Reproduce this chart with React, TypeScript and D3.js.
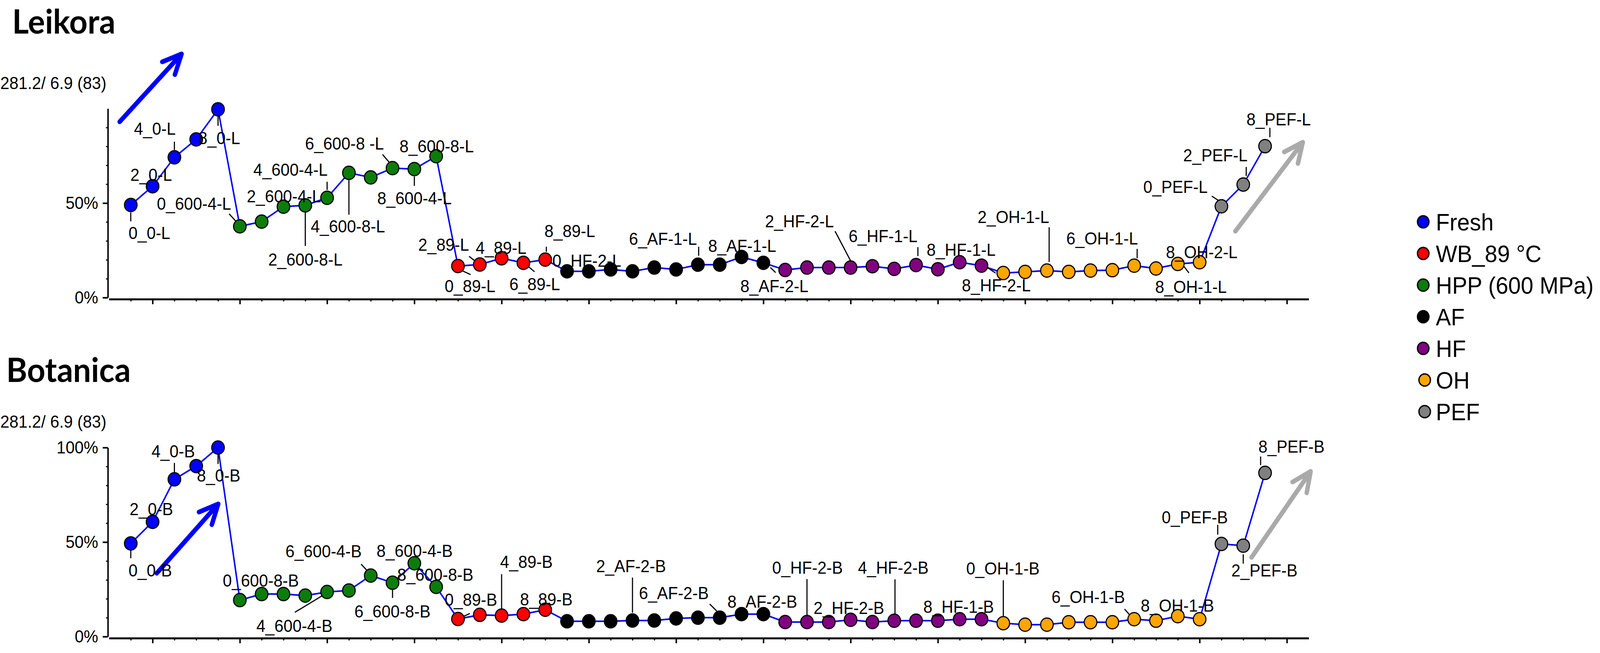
import * as d3 from "d3";
import { useRef, useEffect } from "react";

// legend / group order
const groups = ["Fresh", "WB_89 °C", "HPP (600 MPa)", "AF", "HF", "OH", "PEF"];
const groupColors = ["#0000ff", "#ff0000", "#0a7d0a", "#000000", "#800080", "#ffa500", "#808080"];

// order the groups appear along the x axis (index into groups)
const plotOrder = [0, 2, 1, 3, 4, 5, 6];

// Leikora, % of max
const leikoraFresh = [49.0, 58.9, 74.2, 83.7, 99.6];
const leikoraWB = [16.7, 17.5, 20.8, 18.4, 20.1];
const leikoraHPP = [37.7, 40.2, 48.1, 48.8, 52.8, 66.0, 63.6, 68.5, 68.0, 74.8];
const leikoraAF = [13.9, 13.9, 14.9, 13.9, 15.9, 14.9, 17.4, 17.4, 21.5, 18.4];
const leikoraHF = [14.6, 15.9, 15.9, 15.9, 16.6, 15.2, 17.2, 15.0, 18.7, 16.9];
const leikoraOH = [13.0, 13.6, 14.3, 13.6, 14.3, 14.5, 16.9, 15.4, 17.8, 18.7];
const leikoraPEF = [48.3, 59.8, 80.1];

// Botanica, % of max
const botanicaFresh = [49.3, 60.7, 83.2, 90.2, 100];
const botanicaWB = [9.3, 11.5, 11.1, 11.9, 14.2];
const botanicaHPP = [19.3, 22.5, 22.5, 21.7, 23.6, 24.4, 32.3, 28.5, 38.8, 26.3];
const botanicaAF = [8.1, 8.1, 8.1, 8.5, 8.5, 9.6, 10.0, 10.0, 11.9, 11.9];
const botanicaHF = [7.7, 7.7, 7.7, 8.9, 7.7, 8.4, 8.4, 8.4, 9.2, 9.2];
const botanicaOH = [7.1, 6.3, 6.3, 7.6, 7.6, 7.6, 9.2, 8.4, 10.8, 9.2];
const botanicaPEF = [49.0, 48.1, 86.6];

const scaleLabel = "281.2/ 6.9 (83)";
const leikoraYTicks = [0, 50];
const botanicaYTicks = [0, 50, 100];
const yMinorTicks = [10, 20, 30, 40, 60, 70, 80, 90];

// label placement: [point index, text, dx, dy, leader offsets]
type Lbl = [number, string, number, number, number[] | null];

const leikoraLabels: Lbl[] = [
    [0, "0_0-L", -6, 87, [0, 19, 0, 42]],
    [1, "2_0-L", -60, -14, null],
    [2, "4_0-L", -109, -58, [0, -40, 0, -19]],
    [4, "8_0-L", -53, 89, [0, 15, 0, 42]],
    [5, "0_600-4-L", -224, -43, [-29, -32, -2, -4]],
    [7, "2_600-4-L", -99, -11, null],
    [8, "2_600-8-L", -100, 154, [0, 18, 0, 104]],
    [9, "4_600-4-L", -199, -56, [0, -41, 0, -20]],
    [10, "4_600-8-L", -103, 152, [0, 18, 0, 107]],
    [12, "6_600-8 -L", -236, -47, [-27, -35, 0, -5]],
    [13, "8_600-4-L", -100, 90, [0, 19, 0, 43]],
    [14, "8_600-8-L", -99, -10, null],
    [15, "0_89-L", -36, 67, [0, 7, 34, 22]],
    [16, "2_89-L", -166, -35, [-29, -21, -5, -3]],
    [17, "4_89-L", -70, -11, null],
    [18, "6_89-L", -38, 70, [4, 2, 30, 23]],
    [19, "8_89-L", -2, -58, [3, -33, 3, -20]],
    [31, "0_HF-2-L", -687, -2, null],
    [26, "6_AF-1-L", -186, -51, [2, -46, 2, -23]],
    [28, "8_AF-1-L", -90, -13, null],
    [29, "8_AF-2-L", -62, 75, [19, 12, 33, 25]],
    [33, "2_HF-2-L", -231, -103, [-42, -93, 4, -10]],
    [36, "6_HF-1-L", -182, -59, [5, -46, 5, -23]],
    [38, "8_HF-1-L", -89, -16, null],
    [39, "8_HF-2-L", -53, 66, [9, 0, 38, 19]],
    [42, "2_OH-1-L", -187, -122, [6, -111, 6, -22]],
    [46, "6_OH-1-L", -183, -54, [8, -43, 8, -19]],
    [48, "8_OH-1-L", -61, 74, [6, -7, 30, 23]],
    [49, "8_OH-2-L", -91, -10, null],
    [50, "0_PEF-L", -211, -34, [-26, -26, 0, -10]],
    [51, "2_PEF-L", -162, -60, [8, -45, 8, -22]],
    [52, "8_PEF-L", -50, -53, [13, -47, 13, -23]],
];

const botanicaLabels: Lbl[] = [
    [0, "0_0-B", -6, 85, [0, 17, 0, 38]],
    [1, "2_0-B", -62, -17, null],
    [2, "4_0-B", -62, -56, [0, -42, 0, -15]],
    [4, "8_0-B", -57, 87, [0, 16, 0, 42]],
    [6, "0_600-8-B", -105, -19, null],
    [9, "4_600-4-B", -191, 102, [-87, 52, 0, 2]],
    [11, "6_600-4-B", -230, -47, [-26, -29, 0, -3]],
    [13, "8_600-4-B", -102, -16, null],
    [12, "6_600-8-B", -103, 89, [0, 16, 0, 39]],
    [14, "8_600-8-B", -105, -16, null],
    [15, "0_89-B", -36, -34, [0, 0, 32, -14]],
    [17, "4_89-B", -4, -122, [0, -106, 0, -16]],
    [19, "8_89-B", -68, -11, null],
    [23, "2_AF-2-B", -98, -124, [0, -110, 0, -20]],
    [27, "6_AF-2-B", -218, -48, [-27, -35, -8, -17]],
    [29, "8_AF-2-B", -97, -16, null],
    [31, "0_HF-2-B", -94, -124, [0, -110, 0, -4]],
    [33, "2_HF-2-B", -100, -15, null],
    [35, "4_HF-2-B", -98, -120, [2, -106, 2, -4]],
    [38, "8_HF-1-B", -98, -16, null],
    [40, "0_OH-1-B", -100, -125, [0, -110, 0, -18]],
    [46, "6_OH-1-B", -223, -41, [-26, -26, -1, 1]],
    [48, "8_OH-1-B", -100, -12, null],
    [50, "0_PEF-B", -161, -53, [-10, -49, -10, -24]],
    [51, "2_PEF-B", -32, 79, [0, 22, 0, 46]],
    [52, "8_PEF-B", -18, -52, [-12, -42, -12, -20]],
];

// trend arrows in data coords: [x from, y from, x to, y to], colour
const leikoraArrows: [number[], string][] = [
    [[-0.51, 93, 2.33, 128.9], "#0000ff"],
    [[50.64, 35.1, 53.73, 82.2], "#aaaaaa"],
];
const botanicaArrows: [number[], string][] = [
    [[1.19, 33.5, 4.01, 70.2], "#0000ff"],
    [[51.38, 41.9, 54.09, 87.4], "#aaaaaa"],
];

const W = 4317;
const H = 1672;
const FONT = "'Liberation Sans', Arial, sans-serif";

const panels = [
    {
        title: "Leikora", titleX: 33, titleY: 86, scaleY: 228,
        y0: 762, y100: 278, yTicks: leikoraYTicks,
        series: [leikoraFresh, leikoraHPP, leikoraWB, leikoraAF, leikoraHF, leikoraOH, leikoraPEF],
        labels: leikoraLabels, arrows: leikoraArrows,
    },
    {
        title: "Botanica", titleX: 17, titleY: 978, scaleY: 1095,
        y0: 1630, y100: 1146, yTicks: botanicaYTicks,
        series: [botanicaFresh, botanicaHPP, botanicaWB, botanicaAF, botanicaHF, botanicaOH, botanicaPEF],
        labels: botanicaLabels, arrows: botanicaArrows,
    },
];

interface Pt { i: number; v: number; g: number }

const App = () => {
    const svgRef = useRef<SVGSVGElement>(null);

    useEffect(() => {
        if (!svgRef.current) return;
        const svg = d3.select(svgRef.current);
        svg.selectAll("*").remove();

        const x = d3.scaleLinear().domain([-1, 54]).range([294, 3531]);
        const axisLeftX = 291;

        panels.forEach((p) => {
            const y = d3.scaleLinear().domain([0, 100]).range([p.y0, p.y100]);
            const g = svg.append("g");

            // flatten series into points along x
            const pts: Pt[] = [];
            p.series.forEach((vals, k) => {
                vals.forEach((v) => pts.push({ i: pts.length, v, g: plotOrder[k] }));
            });

            // title
            g.append("text")
                .attr("x", p.titleX).attr("y", p.titleY)
                .attr("font-family", "Lato, 'Open Sans', sans-serif")
                .attr("font-weight", 700)
                .attr("font-size", 86)
                .text(p.title);

            g.append("text")
                .attr("x", axisLeftX - 4).attr("y", p.scaleY)
                .attr("text-anchor", "end")
                .attr("font-family", FONT).attr("font-size", 44)
                .text(scaleLabel);

            // y axis
            const yAxis = g.append("g")
                .attr("transform", `translate(${axisLeftX},0)`)
                .call(d3.axisLeft(y).tickValues(p.yTicks).tickFormat((d) => d + "%")
                    .tickSize(14).tickSizeOuter(0).tickPadding(12));
            yAxis.select(".domain").attr("stroke-width", 4);
            yAxis.selectAll("line").attr("stroke-width", 4);
            yAxis.selectAll("text").attr("font-family", FONT).attr("font-size", 44).attr("fill", "#000");

            const yMinor = g.append("g")
                .attr("transform", `translate(${axisLeftX},0)`)
                .call(d3.axisLeft(y).tickValues(yMinorTicks).tickFormat(() => "").tickSize(5));
            yMinor.select(".domain").remove();
            yMinor.selectAll("line").attr("stroke-width", 3);

            // x axis
            const xAxisY = p.y0 + 4;
            const majors = d3.range(1, 54, 4);
            const minors = d3.range(0, 54).filter((d) => (d - 1) % 4 !== 0);
            const xAxis = g.append("g")
                .attr("transform", `translate(0,${xAxisY})`)
                .call(d3.axisBottom(x).tickValues(majors).tickFormat(() => "").tickSize(13).tickSizeOuter(0));
            xAxis.select(".domain").attr("stroke-width", 5);
            xAxis.selectAll("line").attr("stroke-width", 4);
            const xMinor = g.append("g")
                .attr("transform", `translate(0,${xAxisY})`)
                .call(d3.axisBottom(x).tickValues(minors).tickFormat(() => "").tickSize(6));
            xMinor.select(".domain").remove();
            xMinor.selectAll("line").attr("stroke-width", 3);

            // connecting line
            const line = d3.line<Pt>().x((d) => x(d.i)).y((d) => y(d.v));
            g.append("path")
                .datum(pts)
                .attr("d", line)
                .attr("fill", "none")
                .attr("stroke", "#0000ff")
                .attr("stroke-width", 4);

            // trend arrows
            p.arrows.forEach(([c, color]) => {
                const x1 = x(c[0]), y1 = y(c[1]), x2 = x(c[2]), y2 = y(c[3]);
                const ang = Math.atan2(y1 - y2, x1 - x2);
                const head = 56, spread = (25 * Math.PI) / 180;
                const path = d3.path();
                path.moveTo(x1, y1);
                path.lineTo(x2, y2);
                path.moveTo(x2 + head * Math.cos(ang + spread), y2 + head * Math.sin(ang + spread));
                path.lineTo(x2, y2);
                path.lineTo(x2 + head * Math.cos(ang - spread), y2 + head * Math.sin(ang - spread));
                g.append("path")
                    .attr("d", path.toString())
                    .attr("fill", "none")
                    .attr("stroke", color)
                    .attr("stroke-width", 12)
                    .attr("stroke-linecap", "round")
                    .attr("stroke-linejoin", "round");
            });

            // leader lines
            g.selectAll(".leader")
                .data(p.labels.filter((l) => l[4]))
                .enter()
                .append("line")
                .attr("x1", (l) => x(l[0]) + l[4]![0])
                .attr("y1", (l) => y(pts[l[0]].v) + l[4]![1])
                .attr("x2", (l) => x(l[0]) + l[4]![2])
                .attr("y2", (l) => y(pts[l[0]].v) + l[4]![3])
                .attr("stroke", "#000")
                .attr("stroke-width", 3);

            // markers
            g.selectAll(".pt")
                .data(pts)
                .enter()
                .append("circle")
                .attr("cx", (d) => x(d.i))
                .attr("cy", (d) => y(d.v))
                .attr("r", 17)
                .attr("fill", (d) => groupColors[d.g])
                .attr("stroke", "#000")
                .attr("stroke-width", 3);

            // point labels
            g.selectAll(".lbl")
                .data(p.labels)
                .enter()
                .append("text")
                .attr("x", (l) => x(l[0]) + l[2])
                .attr("y", (l) => y(pts[l[0]].v) + l[3])
                .attr("font-family", FONT)
                .attr("font-size", 44)
                .text((l) => l[1]);
        });

        // legend
        const legend = svg.append("g").attr("transform", "translate(3840,568)");
        groups.forEach((name, k) => {
            legend.append("circle")
                .attr("cx", k >= 5 ? 4 : 0).attr("cy", k * 81)
                .attr("r", 15.5)
                .attr("fill", groupColors[k])
                .attr("stroke", "#000")
                .attr("stroke-width", 3.5);
            legend.append("text")
                .attr("x", 34).attr("y", k * 81 + 22)
                .attr("font-family", FONT)
                .attr("font-size", 61)
                .text(name);
        });

        return () => {
            svg.selectAll("*").remove();
        };
    }, []);

    return (
        <svg
            ref={svgRef}
            viewBox={`0 0 ${W} ${H}`}
            preserveAspectRatio="none"
            style={{ position: "absolute", left: 0, top: 0, width: "100vw", height: "100vh", background: "#fff" }}
        ></svg>
    );
};

export default App;
